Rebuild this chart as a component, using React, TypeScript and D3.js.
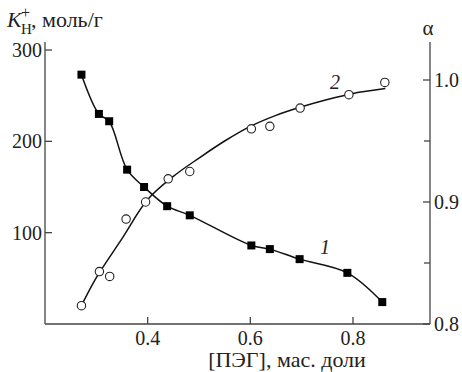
import React from "react";
import * as d3 from "d3";

const peg1 = [0.271, 0.305, 0.325, 0.36, 0.393, 0.438, 0.482, 0.602, 0.638, 0.696, 0.789, 0.857];
const k1 = [273, 230, 222, 169, 150, 129, 119, 86, 82, 71, 56, 24];

const peg2 = [0.271, 0.306, 0.326, 0.358, 0.396, 0.44, 0.482, 0.602, 0.638, 0.697, 0.792, 0.862];
const alpha2 = [0.815, 0.843, 0.839, 0.886, 0.9, 0.919, 0.925, 0.96, 0.962, 0.977, 0.988, 0.998];

// fitted curve 2
const fitX = [0.271, 0.30, 0.35, 0.40, 0.45, 0.50, 0.55, 0.60, 0.65, 0.70, 0.75, 0.80, 0.863];
const fitA = [0.815, 0.838, 0.870, 0.902, 0.921, 0.936, 0.950, 0.962, 0.971, 0.978, 0.984, 0.989, 0.993];

const xTicks = [0.4, 0.6, 0.8];
const leftTicks = [100, 200, 300];
const rightTicks = [0.8, 0.9, 1.0];
const rightMinor = [0.85, 0.95];

const W = 462, H = 372;
const FONT = "Liberation Serif";
const AX = "#444";

export default function App() {
  const x = d3.scaleLinear().domain([0.2, 0.95]).range([45, 430]);
  const yL = d3.scaleLinear().domain([0, 300]).range([324, 50]);
  const yR = d3.scaleLinear().domain([0.8, 1.0]).range([324, 80]);
  const top = 42;
  const x0 = x(0.2), x1 = x(0.95), yb = yL(0);

  const line1 = d3.line<number>().x((_, i) => x(peg1[i])).y((d) => yL(d)).curve(d3.curveCatmullRom.alpha(0.5));
  const line2 = d3.line<number>().x((_, i) => x(fitX[i])).y((d) => yR(d)).curve(d3.curveCatmullRom.alpha(0.5));

  const tl = 7;
  const ts = { fontFamily: FONT } as React.CSSProperties;
  return (
    <svg width={W} height={H} style={{ position: "absolute", left: 0, top: 0, background: "#fff" }}>
      {/* axes */}
      <line x1={x0} y1={top} x2={x0} y2={yb} stroke={AX} strokeWidth={1.3} />
      <line x1={x1} y1={top} x2={x1} y2={yb} stroke={AX} strokeWidth={1.3} />
      <line x1={x0} y1={yb} x2={x1} y2={yb} stroke={AX} strokeWidth={1.3} />
      {xTicks.map((t) => (
        <g key={"x" + t}>
          <line x1={x(t)} x2={x(t)} y1={yb} y2={yb - tl} stroke={AX} strokeWidth={1.3} />
          <text style={ts} x={x(t)} y={345} textAnchor="middle" fontSize={20} fill="#222">{t.toFixed(1)}</text>
        </g>
      ))}
      {leftTicks.map((t) => (
        <g key={"l" + t}>
          <line x1={x0} x2={x0 + tl} y1={yL(t)} y2={yL(t)} stroke={AX} strokeWidth={1.3} />
          <text style={ts} x={42} y={yL(t) + 7} textAnchor="end" fontSize={20} fill="#222">{t}</text>
        </g>
      ))}
      {rightTicks.map((t) => (
        <g key={"r" + t}>
          <line x1={x1} x2={x1 - tl} y1={yR(t)} y2={yR(t)} stroke={AX} strokeWidth={1.3} />
          <text style={ts} x={434} y={yR(t) + 7} textAnchor="start" fontSize={20} fill="#222">{t.toFixed(1)}</text>
        </g>
      ))}
      {rightMinor.map((t) => (
        <line key={"m" + t} x1={x1} x2={x1 - 6} y1={yR(t)} y2={yR(t)} stroke={AX} strokeWidth={1.3} />
      ))}

      {/* curves */}
      <path d={line1(k1) || ""} fill="none" stroke="#111" strokeWidth={1.5} />
      <path d={line2(fitA) || ""} fill="none" stroke="#111" strokeWidth={1.5} />

      {k1.map((v, i) => (
        <rect key={"s" + i} x={x(peg1[i]) - 4} y={yL(v) - 4} width={8} height={8} fill="#000" />
      ))}
      {alpha2.map((v, i) => (
        <circle key={"c" + i} cx={x(peg2[i])} cy={yR(v)} r={4.2} fill="#fff" stroke="#222" strokeWidth={1.1} />
      ))}

      {/* series labels */}
      <text style={ts} x={335} y={89} textAnchor="middle" fontSize={20} fontStyle="italic" fill="#222">2</text>
      <text style={ts} x={325} y={254} textAnchor="middle" fontSize={20} fontStyle="italic" fill="#222">1</text>

      {/* axis titles */}
      <text style={ts} x={7} y={27} fontSize={22} fill="#222" fontStyle="italic">K</text>
      <text style={ts} x={21} y={34} fontSize={15} fill="#222">Н</text>
      <text style={ts} x={21} y={18} fontSize={16} fill="#222">+</text>
      <text style={ts} x={31} y={27} fontSize={22} fill="#222">, моль/г</text>
      <text style={ts} x={428} y={35} textAnchor="middle" fontSize={21} fill="#222">α</text>
      <text style={ts} x={287} y={367} textAnchor="middle" fontSize={22} fill="#222">[ПЭГ], мас. доли</text>
    </svg>
  );
}
